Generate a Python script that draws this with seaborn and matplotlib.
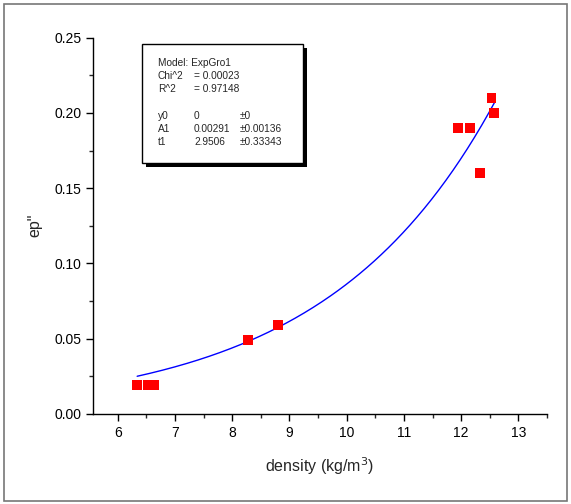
import numpy as np
import pandas as pd
import matplotlib
matplotlib.use("Agg")
import matplotlib.pyplot as plt
from matplotlib.patches import Rectangle
from matplotlib.ticker import MultipleLocator
import seaborn as sns

# measured points
density = [6.34, 6.53, 6.63, 8.28, 8.80, 11.94, 12.15, 12.33, 12.53, 12.58]
ep2 = [0.019, 0.019, 0.019, 0.049, 0.059, 0.190, 0.190, 0.160, 0.210, 0.200]

# ExpGro1 fit parameters (from the fit box)
y0 = 0.0
A1 = 0.00291
t1 = 2.9506

sns.set_style("ticks")
plt.rcParams['font.family'] = ['Liberation Sans', 'DejaVu Sans']

df = pd.DataFrame({"density": density, "ep": ep2})
xfit = np.linspace(min(density), max(density), 200)
fit = pd.DataFrame({"density": xfit, "ep": y0 + A1 * np.exp(xfit / t1)})

fig = plt.figure(figsize=(5.71, 5.04), dpi=100)
ax = fig.add_axes([0.163, 0.179, 0.795, 0.746])

sns.lineplot(data=fit, x="density", y="ep", color="#0000ff", linewidth=1.0, ax=ax)
sns.scatterplot(data=df, x="density", y="ep", color="#ff0000", marker="s", s=50,
                edgecolor="none", ax=ax, zorder=3)

ax.set_xlim(5.57, 13.5)
ax.set_ylim(0, 0.25)
ax.xaxis.set_major_locator(MultipleLocator(1))
ax.xaxis.set_minor_locator(MultipleLocator(0.5))
ax.yaxis.set_major_locator(MultipleLocator(0.05))
ax.yaxis.set_minor_locator(MultipleLocator(0.025))
ax.yaxis.set_major_formatter(matplotlib.ticker.FormatStrFormatter("%.2f"))
ax.tick_params(which="major", direction="out", length=5, width=1, labelsize=10, colors="black")
ax.tick_params(which="minor", direction="out", length=3, width=1)
ax.xaxis.set_minor_formatter(matplotlib.ticker.NullFormatter())
for s in ["top", "right"]:
    ax.spines[s].set_visible(False)
for s in ["left", "bottom"]:
    ax.spines[s].set_linewidth(1)
    ax.spines[s].set_color("black")
ax.set_xlabel("density (kg/m$^3$)", fontsize=11.5, labelpad=6)
ax.set_ylabel('ep"', fontsize=11.5, labelpad=14)
ax.yaxis.set_label_coords(-0.112, 0.5)
ax.xaxis.set_label_coords(0.5, -0.11)

# fit result box with shadow
W, H = 571, 504
def fx(px):
    return px / W
def fy(py):
    return 1 - py / H
fig.patches.append(Rectangle((fx(146), fy(167)), fx(303) - fx(142), fy(44) - fy(163),
                             transform=fig.transFigure, facecolor="black", edgecolor="none", zorder=5))
fig.patches.append(Rectangle((fx(142), fy(163)), fx(303) - fx(142), fy(44) - fy(163),
                             transform=fig.transFigure, facecolor="white", edgecolor="black",
                             linewidth=1, zorder=6))
rows = [("Model: ExpGro1", "", ""),
        ("Chi^2", "= 0.00023", ""),
        ("R^2", "= 0.97148", ""),
        ("", "", ""),
        ("y0", "0", "±0"),
        ("A1", "0.00291", "±0.00136"),
        ("t1", "2.9506", "±0.33343")]
for i, (a, b, c) in enumerate(rows):
    yy = fy(63 + i * 13.2)
    fig.text(fx(158), yy, a, fontsize=7.3, va="center", zorder=7)
    fig.text(fx(194), yy, b, fontsize=7.3, va="center", zorder=7)
    fig.text(fx(240), yy, c, fontsize=7.3, va="center", zorder=7)

# outer frame
fig.patches.append(Rectangle((fx(4), fy(501)), fx(567) - fx(4), fy(4) - fy(501),
                             transform=fig.transFigure, facecolor="none", edgecolor="#777777",
                             linewidth=1.2))

fig.savefig("out.png", dpi=100)
